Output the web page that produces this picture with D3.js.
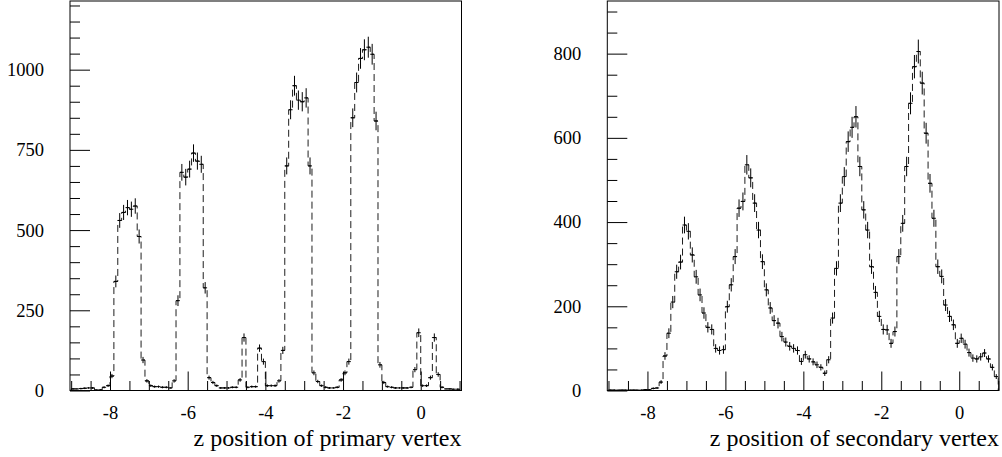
<!DOCTYPE html>
<html>
<head>
<meta charset="utf-8">
<script src="https://cdn.jsdelivr.net/npm/d3@7"></script>
<style>
  body { margin: 0; background: #fff; }
  svg text { font-family: "Liberation Serif", "Times New Roman", serif; fill: #000; }
</style>
</head>
<body>
<div id="container"></div>
<script>
/* DATA */
// histogram binning, both panels: 100 bins of 0.1 from -9 to 1
const binStart = -9, binWidth = 0.1;

const primaryCounts = [
  5, 5, 6, 7, 8, 8, 2, 2, 10, 15,
  45, 340, 530, 555, 570, 565, 575, 480, 95, 30,
  15, 12, 12, 10, 10, 8, 30, 280, 680, 665,
  690, 740, 715, 705, 320, 40, 25, 15, 8, 8,
  8, 10, 10, 33, 165, 10, 12, 12, 132, 90,
  15, 15, 15, 30, 125, 700, 875, 950, 905, 900,
  912, 700, 55, 28, 15, 10, 8, 8, 10, 33,
  55, 90, 850, 960, 1035, 1062, 1070, 1048, 840, 80,
  25, 12, 10, 8, 8, 8, 8, 10, 65, 180,
  15, 15, 40, 165, 50, 10, 5, 5, 4, 4
];

const secondaryCounts = [
  1, 1, 1, 1, 1, 1, 1, 1, 1, 2,
  2, 5, 6, 20, 82, 136, 210, 282, 305, 393,
  378, 322, 270, 227, 184, 150, 145, 100, 95, 97,
  199, 251, 318, 433, 449, 536, 505, 445, 381, 306,
  239, 196, 166, 160, 128, 115, 105, 100, 95, 69,
  85, 75, 68, 61, 55, 41, 73, 172, 290, 445,
  508, 591, 625, 650, 532, 429, 381, 294, 233, 176,
  145, 144, 112, 140, 318, 397, 532, 682, 769, 805,
  730, 611, 492, 409, 294, 271, 203, 176, 156, 112,
  124, 110, 90, 77, 75, 80, 89, 75, 55, 33
];

const xTickLabels = [-8, -6, -4, -2, 0];
const primaryYTicks = [0, 250, 500, 750, 1000];
const secondaryYTicks = [0, 200, 400, 600, 800];
const primaryTitle = "z position of primary vertex";
const secondaryTitle = "z position of secondary vertex";

/* LAYOUT */
const width = 1002, height = 457;
const frameTop = 1, frameBottom = 390.5;
const serif = '"Liberation Serif", "Times New Roman", serif';

const panels = [
  { counts: primaryCounts, yTicks: primaryYTicks, yMax: 1214, yMinorMax: 1200,
    xDomain: [-9.03, 1.05], left: 70, right: 461.5, title: primaryTitle },
  { counts: secondaryCounts, yTicks: secondaryYTicks, yMax: 925, yMinorMax: 900,
    xDomain: [-9.03, 1.02], left: 607.3, right: 999, title: secondaryTitle }
];

const svg = d3.select('#container')
  .append('svg')
  .attr('width', width)
  .attr('height', height);

panels.forEach(drawPanel);

function drawPanel(p) {
  const x = d3.scaleLinear().domain(p.xDomain).range([p.left, p.right]);
  const y = d3.scaleLinear().domain([0, p.yMax]).range([frameBottom, frameTop]);
  const g = svg.append('g');

  const bins = p.counts.map((v, i) => ({
    x0: binStart + i * binWidth,
    x1: binStart + (i + 1) * binWidth,
    v: v
  }));

  // dashed step outline of the histogram
  const pts = [[bins[0].x0, 0]];
  bins.forEach(b => { pts.push([b.x0, b.v]); pts.push([b.x1, b.v]); });
  pts.push([bins[bins.length - 1].x1, 0]);
  const line = d3.line().x(d => x(d[0])).y(d => y(d[1]));

  g.append('path')
    .attr('d', line(pts))
    .attr('fill', 'none')
    .attr('stroke', '#1e1e1e')
    .attr('stroke-width', 1)
    .attr('stroke-dasharray', '7,4');

  // error bars (sqrt N) with bin-width horizontal marks
  const eb = g.append('g').attr('stroke', '#000').attr('stroke-width', 1);
  eb.selectAll('line.ev')
    .data(bins)
    .join('line')
    .attr('class', 'ev')
    .attr('x1', d => x((d.x0 + d.x1) / 2))
    .attr('x2', d => x((d.x0 + d.x1) / 2))
    .attr('y1', d => y(Math.max(0, d.v - Math.sqrt(d.v))))
    .attr('y2', d => y(d.v + Math.sqrt(d.v)));
  eb.selectAll('line.eh')
    .data(bins)
    .join('line')
    .attr('class', 'eh')
    .attr('x1', d => x(d.x0))
    .attr('x2', d => x(d.x1))
    .attr('y1', d => y(d.v))
    .attr('y2', d => y(d.v));

  // axes: ticks point into the frame
  const xMinor = d3.range(-9, 1.001, 0.5).filter(v => !xTickLabels.includes(v));
  const yMinor = d3.range(0, p.yMinorMax + 1, 50).filter(v => !p.yTicks.includes(v));

  const styleAxis = a => {
    a.select('.domain').remove();
    a.selectAll('text')
      .style('font-family', serif)
      .style('font-size', '18.5px')
      .style('fill', '#000');
  };

  g.append('g')
    .attr('transform', `translate(0,${frameBottom})`)
    .call(d3.axisBottom(x).tickValues(xMinor).tickSize(-9.5).tickFormat(''))
    .call(styleAxis);
  g.append('g')
    .attr('transform', `translate(0,${frameBottom})`)
    .call(d3.axisBottom(x).tickValues(xTickLabels).tickSize(-19).tickPadding(15).tickFormat(d => String(d)))
    .call(styleAxis);

  g.append('g')
    .attr('transform', `translate(${p.left},0)`)
    .call(d3.axisLeft(y).tickValues(yMinor).tickSize(-10).tickFormat(''))
    .call(styleAxis);
  g.append('g')
    .attr('transform', `translate(${p.left},0)`)
    .call(d3.axisLeft(y).tickValues(p.yTicks).tickSize(-20).tickPadding(26).tickFormat(d => String(d)))
    .call(styleAxis);

  // frame
  g.append('rect')
    .attr('x', p.left)
    .attr('y', frameTop)
    .attr('width', p.right - p.left)
    .attr('height', frameBottom - frameTop)
    .attr('fill', 'none')
    .attr('stroke', '#000')
    .attr('stroke-width', 1);

  // axis title, flush with the frame's right edge
  g.append('text')
    .attr('x', p.right)
    .attr('y', 446)
    .attr('text-anchor', 'end')
    .style('font-family', serif)
    .style('font-size', '24px')
    .text(p.title);
}
</script>
</body>
</html>
